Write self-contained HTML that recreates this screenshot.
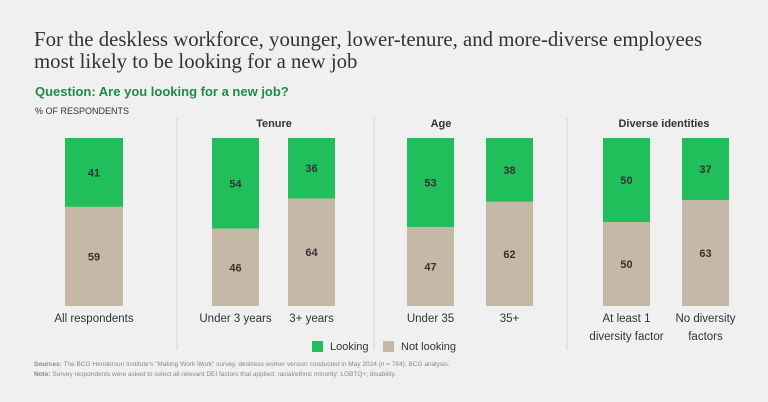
<!DOCTYPE html>
<html><head><meta charset="utf-8"><style>
body{margin:0;background:#f1f0f0;}
#c{position:relative;width:768px;height:402px;overflow:hidden;font-family:"Liberation Sans",sans-serif;background:#f1f0f0;}
.t{position:absolute;white-space:nowrap;}
</style></head><body>
<div id="c">
<div class="t" style="left:34px;top:29px;font-family:'Liberation Serif',serif;font-size:20.8px;line-height:22px;color:#333;">For the deskless workforce, younger, lower-tenure, and more-diverse employees<br>most likely to be looking for a new job</div>
<div class="t" style="left:35px;top:84px;font-size:13px;font-weight:bold;color:#1f8a4c;">Question: Are you looking for a new job?</div>
<div class="t" style="left:35px;top:106px;font-size:9px;color:#333;">% OF RESPONDENTS</div>
<svg id="s" width="768" height="402" style="position:absolute;left:0;top:0"></svg>
<div class="t" style="left:34px;top:360px;font-size:6.5px;line-height:10px;color:#888;"><b>Sources:</b> The BCG Henderson Institute's "Making Work Work" survey, deskless worker version conducted in May 2024 (n = 784); BCG analysis.<br><b>Note:</b> Survey respondents were asked to select all relevant DEI factors that applied: racial/ethnic minority; LGBTQ+; disability.</div>
</div>
<script>
const categories=["All respondents","Under 3 years","3+ years","Under 35","35+","At least 1|diversity factor","No diversity|factors"];
const looking=[41,54,36,53,38,50,37];
const notLooking=[59,46,64,47,62,50,63];
const groups=["Tenure","Age","Diverse identities"];
const barX=[65,212,288,407,486,603,682];
const barW=[58,47,47,47,47,47,47];
const groupX=[274,441,664];
const sepX=[177,374,567];
const NS="http://www.w3.org/2000/svg";
const s=document.getElementById('s');
const top0=138,h=168;
const y=v=>top0+h*(1-v/100);
function el(t,a,txt){const e=document.createElementNS(NS,t);for(const k in a)e.setAttribute(k,a[k]);if(txt!=null)e.textContent=txt;s.appendChild(e);return e;}
sepX.forEach(x=>{const e=el('line',{x1:x,x2:x,y1:118,y2:350,stroke:'#d6d6d6','stroke-width':1});

});
groups.forEach((g,i)=>{const e=el('text',{x:groupX[i],y:127,'text-anchor':'middle','font-size':11,'font-weight':'bold',fill:'#333','font-family':'Liberation Sans'},g);

});
categories.forEach((c,i)=>{
const x=barX[i],w=barW[i],cx=x+w/2;
const gTop=y(looking[i]+notLooking[i]);
const lb=y(notLooking[i]);
const g=el('rect',{x:x,y:gTop,width:w,height:lb-gTop,fill:'#21bf5b'});


const t=el('rect',{x:x,y:lb,width:w,height:top0+h-lb,fill:'#c5b8a6'});


const gt=el('text',{x:cx,y:(gTop+lb)/2+4,'text-anchor':'middle','font-size':11,'font-weight':'bold',fill:'#333','font-family':'Liberation Sans'},looking[i]);


const tt=el('text',{x:cx,y:(lb+top0+h)/2+4,'text-anchor':'middle','font-size':11,'font-weight':'bold',fill:'#333','font-family':'Liberation Sans'},notLooking[i]);


c.split('|').forEach((ln,j)=>{const l=el('text',{x:cx,y:322+j*18,'text-anchor':'middle','font-size':11.5,fill:'#333','font-family':'Liberation Sans'},ln);

});
});
[[312,'#21bf5b','Looking'],[383,'#c5b8a6','Not looking']].forEach(([x,col,lab])=>{
const r=el('rect',{x:x,y:341,width:11,height:11,fill:col});


const t=el('text',{x:x+18,y:350,'font-size':11,fill:'#333','font-family':'Liberation Sans'},lab);

});
</script>
</body></html>
